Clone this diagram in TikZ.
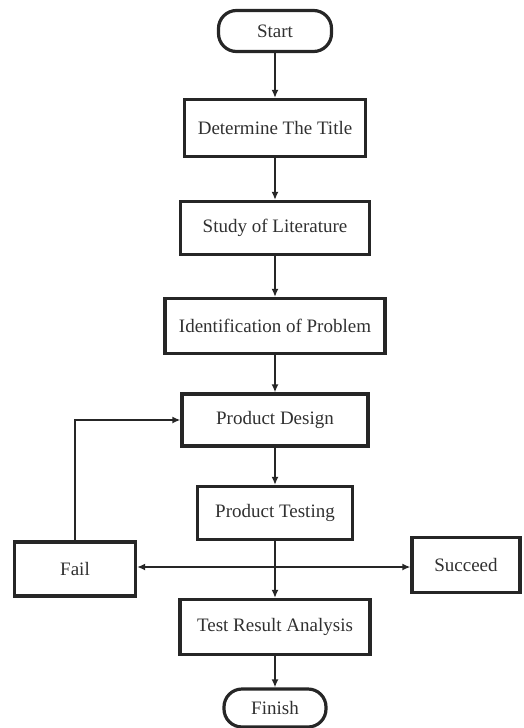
\documentclass[tikz,border=0pt]{standalone}
\usepackage{fontspec}
\setmainfont{Liberation Serif}
\usetikzlibrary{arrows.meta}

\definecolor{linegray}{HTML}{262626}
\definecolor{textgray}{HTML}{303030}

\tikzset{
    stepbox/.style={draw=linegray, line width=3.2pt, rectangle, inner sep=0pt,
        text=textgray, font=\fontsize{19}{22}\selectfont},
    endbox/.style={stepbox, rounded corners=18pt},
    flow/.style={draw=linegray, line width=2.6pt, ->, >={Latex[length=8pt,width=7pt]}}
}

\begin{document}
\begin{tikzpicture}[x=1pt, y=-1pt]

    \useasboundingbox (0,0) rectangle (523,728);

    \node[endbox, minimum width=113pt, minimum height=41pt] (start) at (275,31) {Start};
    \node[stepbox, minimum width=181pt, minimum height=57pt] (title) at (275,128) {Determine The Title};
    \node[stepbox, minimum width=189pt, minimum height=53pt] (study) at (275,228) {Study of Literature};
    \node[stepbox, minimum width=220pt, minimum height=55pt] (ident) at (275,326) {Identification of Problem};
    \node[stepbox, minimum width=186pt, minimum height=52pt] (design) at (275,420) {Product Design};
    \node[stepbox, minimum width=155pt, minimum height=53pt] (testing) at (275,513) {Product Testing};
    \node[stepbox, minimum width=121pt, minimum height=54pt] (fail) at (75,569) {Fail};
    \node[stepbox, minimum width=108pt, minimum height=55pt] (succeed) at (466,565) {Succeed};
    \node[stepbox, minimum width=190pt, minimum height=55pt] (analysis) at (275,627) {Test Result Analysis};
    \node[endbox, minimum width=102pt, minimum height=38pt] (finish) at (275,708) {Finish};

    \coordinate (split) at (275,567);

    \draw[flow] (start) -- (title);
    \draw[flow] (title) -- (study);
    \draw[flow] (study) -- (ident);
    \draw[flow] (ident) -- (design);
    \draw[flow] (design) -- (testing);
    \draw[flow] (testing) -- (analysis);
    \draw[flow] (analysis) -- (finish);

    \draw[flow] (split) -- (split -| fail.east);
    \draw[flow] (split) -- (split -| succeed.west);
    \draw[flow] (fail.north) |- (design.west);

\end{tikzpicture}
\end{document}
